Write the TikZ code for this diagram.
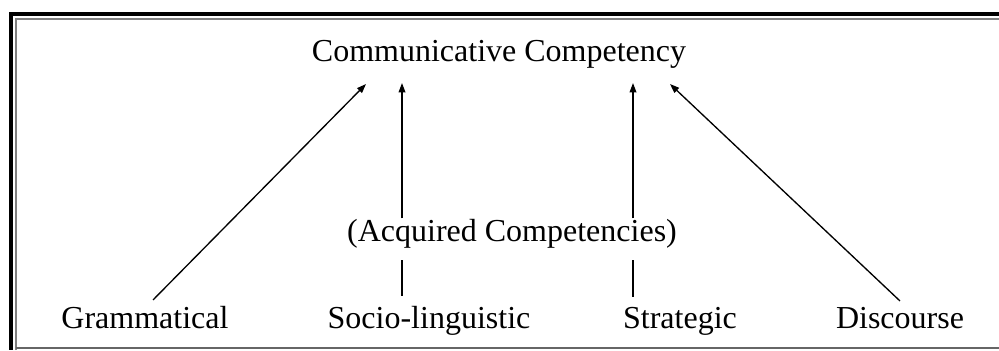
\documentclass[tikz,border=0pt]{standalone}
\usepackage{fontspec}
\setmainfont{Liberation Serif}
\usetikzlibrary{arrows.meta}

\tikzset{every picture/.style={line width=0.75pt}}
\tikzset{
  lbl/.style={anchor=base,inner sep=0pt,font=\fontsize{24}{28}\selectfont},
  conn/.style={line width=1pt,-{Triangle[length=7pt,width=5pt]}},
  tick/.style={line width=1pt}
}

\begin{document}
\begin{tikzpicture}[x=0.75pt,y=0.75pt,yscale=-1,xscale=1]
\useasboundingbox (0,0) rectangle (999,350);

%Frame
\fill (9,12) rectangle (999,16);
\fill (9,12) rectangle (13,350);
\draw [gray, line width=1.5pt] (15.5,350) -- (15.5,18.5) -- (999,18.5);
\draw [gray!80!black, line width=1.5pt] (15.5,347.5) -- (999,347.5);

% Text Node
\node [lbl] (comm) at (499,61) {Communicative Competency};
% Text Node
\node [lbl] (acq) at (512,241) {(Acquired Competencies)};
% Text Node
\node [lbl] (gram) at (145,328) {Grammatical};
% Text Node
\node [lbl] (socio) at (429,328) {Socio-linguistic};
% Text Node
\node [lbl] (strat) at (680,328) {Strategic};
% Text Node
\node [lbl] (disc) at (900,328) {Discourse};

%Arrow tips under the title
\coordinate (gram-top) at (366,84);
\coordinate (socio-top) at (402,83);
\coordinate (strat-top) at (633,83);
\coordinate (disc-top) at (670,84);

%Connectors
\draw [conn] ([xshift=6pt,yshift=-4pt]gram.north) -- (gram-top);
\draw [conn] (acq.north -| socio-top) -- (socio-top);
\draw [tick] ([yshift=-7pt]socio.north -| socio-top) -- ([yshift=9pt]acq.south -| socio-top);
\draw [conn] (acq.north -| strat-top) -- (strat-top);
\draw [tick] ([yshift=-7pt]strat.north -| strat-top) -- ([yshift=9pt]acq.south -| strat-top);
\draw [conn] ([yshift=-4pt]disc.north) -- (disc-top);
\end{tikzpicture}
\end{document}
